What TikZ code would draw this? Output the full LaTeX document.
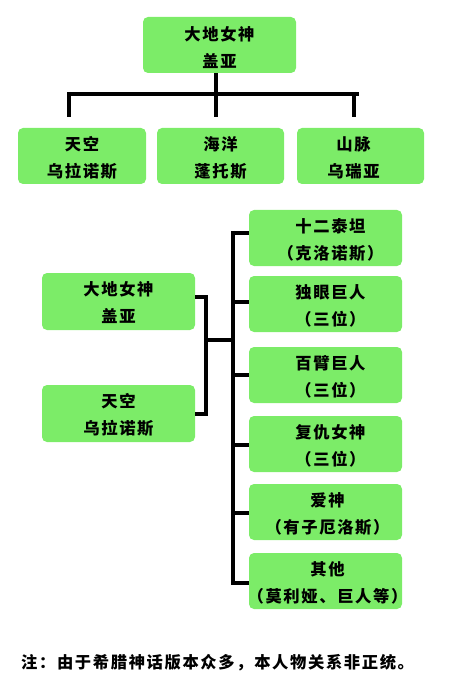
\documentclass[tikz,border=0pt]{standalone}
\usepackage{fontspec}
\setmainfont{Noto Sans CJK SC}[LetterSpace=10]
\definecolor{boxgreen}{RGB}{124,236,104}
\tikzset{
  gbox/.style={fill=boxgreen, draw=none, rounded corners=5pt, inner sep=0pt},
  txt/.style={align=center, font=\fontsize{16.3pt}{27pt}\selectfont\bfseries, inner sep=0pt},
  link/.style={line width=4pt, draw=black},
}
\begin{document}
\begin{tikzpicture}[x=1pt,y=-1pt]
\useasboundingbox (0,0) rectangle (450,692);
% top tree
\node[gbox, minimum width=153pt, minimum height=56pt] (gaia) at (219.5,45) {};
\node[txt] (gaiat) at (219.5,48) {大地女神\\盖亚};
\node[gbox, minimum width=128pt, minimum height=56pt] (sky) at (82,156) {};
\node[txt] (skyt) at (82,157.5) {天空\hspace{1em}\\乌拉诺斯};
\node[gbox, minimum width=127pt, minimum height=56pt] (sea) at (220.5,156) {};
\node[txt] (seat) at (220.5,157.5) {海洋\\蓬托斯};
\node[gbox, minimum width=127pt, minimum height=56pt] (mount) at (360.5,156) {};
\node[txt] (mountt) at (353.5,157.5) {山脉\\乌瑞亚};
\coordinate (bar) at (216,94);
\coordinate (barL) at (67,94);
\coordinate (barR) at (359,94);
\coordinate (barDown) at (216,117);
\draw[link] (barL) -- (barR);
\draw[link] (gaia.south -| bar) -- (barDown);
\draw[link] (69,92) -- (69,117);
\draw[link] (354,92) -- (354,117);
% lower tree
\node[gbox, minimum width=153pt, minimum height=57pt] (gaia2) at (118.5,301.5) {};
\node[txt] (gaia2t) at (118.5,303) {大地女神\\盖亚};
\node[gbox, minimum width=153pt, minimum height=57pt] (sky2) at (118.5,413.5) {};
\node[txt] (sky2t) at (118.5,415) {天空\\乌拉诺斯};
\foreach \n/\y/\t in {c1/238/{十二泰坦\\（克洛诺斯）}, c2/304/{独眼巨人\\（三位）}, c3/375/{百臂巨人\\（三位）}, c4/444/{复仇女神\\（三位）}}{
  \node[gbox, minimum width=153pt, minimum height=56pt] (\n) at (325.5,\y) {};
  \node[txt] (\n t) at ([xshift=5,yshift=-2]\n.center) {\t};
}
\foreach \n/\y/\t in {c5/512/{爱神\\（有子厄洛斯）}, c6/581/{其他\\（莫利娅、巨人等）}}{
  \node[gbox, minimum width=153pt, minimum height=56pt] (\n) at (325.5,\y) {};
  \node[txt] (\n t) at ([xshift=2,yshift=-2]\n.center) {\t};
}
\coordinate (jtop) at (206,297);
\coordinate (jbot) at (206,414);
\coordinate (mid) at (206,340);
\coordinate (sp) at (233,340);
\draw[link] (gaia2.east |- jtop) -- (jtop) -- (jbot) -- (sky2.east |- jbot);
\draw[link] (mid) -- (sp);
\coordinate (spTop) at (233,233);
\coordinate (spBot) at (233,583);
\draw[link] (233,231) -- (233,585);
\draw[link] (spTop) -- (c1.west |- spTop);
\draw[link] (233,302) -- (c2.west |- 0,302);
\draw[link] (233,375) -- (c3.west |- 0,375);
\draw[link] (233,445) -- (c4.west |- 0,445);
\draw[link] (233,513) -- (c5.west |- 0,513);
\draw[link] (spBot) -- (c6.west |- spBot);
% note
\node[txt, anchor=west] (note) at (21,663) {注：由于希腊神话版本众多，本人物关系非正统。};
\end{tikzpicture}
\end{document}
